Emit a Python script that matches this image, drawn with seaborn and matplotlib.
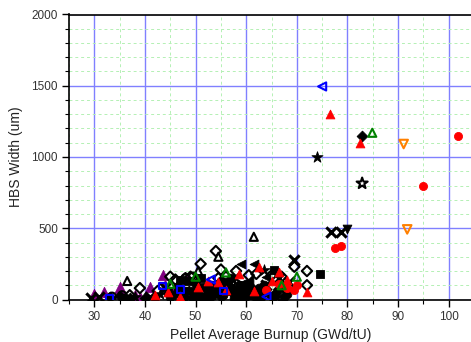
import matplotlib
matplotlib.use("Agg")
import matplotlib.pyplot as plt
import seaborn as sns
import pandas as pd
from matplotlib.ticker import MultipleLocator

# ---------------- data ----------------
purple_tri_x = [30, 32, 35, 35, 38, 41, 43.5, 44, 46, 48.5, 39]
purple_tri_y = [40, 50, 90, 70, 30, 90, 170, 100, 80, 150, 20]

red_tri_x = [42, 44.5, 50.5, 52.5, 54.5, 58.5, 61.5, 62.5, 66.5, 68, 72, 76.5, 82.5, 65, 56, 47]
red_tri_y = [30, 50, 90, 130, 120, 180, 60, 230, 190, 140, 50, 1300, 1100, 130, 70, 20]

red_circ_x = [77.5, 78.8, 95, 101.8, 69.5, 66.5, 68, 70, 64]
red_circ_y = [363, 375, 796, 1150, 70, 110, 80, 100, 70]

green_otri_x = [84.9, 70, 45, 50, 56, 67]
green_otri_y = [1170, 160, 110, 160, 190, 100]

blue_oleft_x = [75, 64, 53]
blue_oleft_y = [1495, 20, 140]

blue_osq_x = [33, 47, 43.5, 55.5]
blue_osq_y = [10, 70, 95, 60]

orange_odown_x = [91.1, 91.8]
orange_odown_y = [1091, 492]

black_x_x = [29.3, 31, 41, 44, 55, 58, 62, 64, 66.5, 68.5, 69.5, 76.8, 78.8, 52, 47]
black_x_y = [10, 20, 20, 80, 90, 40, 40, 100, 150, 120, 280, 474, 474, 50, 10]

black_dia_x = [82.9, 65, 33, 35, 48, 50, 53, 56, 58, 60, 63, 46, 40, 55, 61, 67, 37]
black_dia_y = [1145, 20, 15, 25, 20, 40, 20, 60, 30, 20, 60, 40, 10, 15, 90, 90, 10]

black_circ_x = [47.5, 49, 51, 52.5, 54, 55.5, 57, 58.5, 59.5, 61, 62.5, 64, 66, 68,
                50, 56, 46.5, 49.5, 57.5, 63, 60, 53, 55, 57,
                48, 51.5, 54.5, 56.5, 58, 59, 61.5, 63.5, 65.5, 67.5, 52, 60.5, 62, 45, 42, 36]
black_circ_y = [30, 60, 20, 70, 45, 30, 80, 100, 60, 30, 80, 50, 60, 40,
                110, 120, 90, 10, 10, 15, 110, 100, 130, 150,
                60, 90, 80, 100, 70, 20, 50, 100, 30, 20, 10, 80, 20, 20, 15, 10]

black_sq_x = [74.5, 65.5, 48.5, 51, 59.5, 44.5, 50.5, 47]
black_sq_y = [180, 210, 130, 150, 100, 50, 70, 140]

black_left_x = [59, 61.5, 53, 57, 60.5, 64, 48]
black_left_y = [250, 250, 30, 40, 130, 160, 70]

black_star_x = [73.9, 63.5, 52, 54, 60, 66, 38, 43]
black_star_y = [1000, 210, 40, 60, 50, 20, 20, 40]

black_odia_x = [39, 45, 51, 54, 55, 60.5, 67, 69.5, 72, 72, 65, 68, 54.5, 58, 62,
                37, 42.5, 46, 49, 56, 48]
black_odia_y = [80, 160, 250, 340, 210, 170, 160, 230, 200, 100, 170, 70, 150, 200, 180,
                30, 60, 140, 160, 160, 150]

black_ocirc_x = [33.5, 35.5, 48, 49.5, 57, 58]
black_ocirc_y = [20, 30, 150, 160, 120, 110]

black_ostar_x = [82.9, 60, 63]
black_ostar_y = [815, 40, 30]

black_otri_x = [36.5, 61.5, 54.5, 50.5]
black_otri_y = [130, 440, 300, 200]

black_down_x = [80.0]
black_down_y = [497]

x_ticks = [30, 40, 50, 60, 70, 80, 90, 100]
y_ticks = [0, 500, 1000, 1500, 2000]
x_label = "Pellet Average Burnup (GWd/tU)"
y_label = "HBS Width (um)"

# ---------------- styling ----------------
sns.set_theme(style="white")
plt.rcParams["font.family"] = ["Liberation Sans", "DejaVu Sans"]

fig = plt.figure(figsize=(4.71, 3.42), dpi=100)
ax = fig.add_axes([69 / 471, 1 - 299.5 / 342, (471.5 - 69) / 471, (299.5 - 14.5) / 342])

RED = "#ff0000"
PURPLE = "#800080"
GREEN = "#008000"
BLUE = "#0000ff"
ORANGE = "#ff8000"
BLACK = "#000000"

S = 40

def filled(xs, ys, marker, color, s=S):
    df = pd.DataFrame({"x": xs, "y": ys})
    sns.scatterplot(data=df, x="x", y="y", ax=ax, marker=marker, color=color,
                    edgecolor=color, linewidth=0.6, s=s, zorder=3, legend=False)

def opened(xs, ys, marker, color, s=S):
    df = pd.DataFrame({"x": xs, "y": ys})
    sns.scatterplot(data=df, x="x", y="y", ax=ax, marker=marker, facecolor="none",
                    edgecolor=color, linewidth=1.5, s=s, zorder=3, legend=False)

def line_marker(xs, ys, marker, color, s=S):
    df = pd.DataFrame({"x": xs, "y": ys})
    sns.scatterplot(data=df, x="x", y="y", ax=ax, marker=marker, color=color,
                    linewidth=2.2, s=s, zorder=3, legend=False)

filled(purple_tri_x, purple_tri_y, "^", PURPLE, 55)
opened(black_odia_x, black_odia_y, "D", BLACK, 28)
opened(black_ocirc_x, black_ocirc_y, "o", BLACK, 34)
filled(black_circ_x, black_circ_y, "o", BLACK)
filled(black_dia_x, black_dia_y, "D", BLACK, 30)
filled(black_sq_x, black_sq_y, "s", BLACK, 30)
filled(black_left_x, black_left_y, "<", BLACK)
filled(black_star_x, black_star_y, "*", BLACK, 70)
filled(black_down_x, black_down_y, "v", BLACK)
opened(black_ostar_x, black_ostar_y, "*", BLACK, 70)
opened(black_otri_x, black_otri_y, "^", BLACK, 34)
line_marker(black_x_x, black_x_y, "x", BLACK, 55)
filled(red_tri_x, red_tri_y, "^", RED)
filled(red_circ_x, red_circ_y, "o", RED, 34)
opened(green_otri_x, green_otri_y, "^", GREEN, 34)
opened(blue_oleft_x, blue_oleft_y, "<", BLUE, 34)
opened(blue_osq_x, blue_osq_y, "s", BLUE, 24)
opened(orange_odown_x, orange_odown_y, "v", ORANGE, 38)

ax.set_xlim(25, 104.5)
ax.set_ylim(0, 2000)
ax.set_xticks(x_ticks)
ax.set_yticks(y_ticks)
ax.xaxis.set_minor_locator(MultipleLocator(5))
ax.yaxis.set_minor_locator(MultipleLocator(100))

ax.grid(which="major", color="#8080ff", linewidth=1.0, linestyle="-", zorder=0)
ax.grid(which="minor", color="#b4f0b4", linewidth=0.7, linestyle=(0, (3, 3)), zorder=0)
ax.set_axisbelow(True)

for side in ["left", "bottom", "top"]:
    ax.spines[side].set_visible(True)
    ax.spines[side].set_color("#000000")
    ax.spines[side].set_linewidth(1.2)
ax.spines["right"].set_visible(False)

ax.tick_params(axis="both", which="major", direction="out", length=5, width=1,
               color="black", labelsize=8.5, labelcolor="#333333", pad=3,
               bottom=True, left=True)
ax.tick_params(axis="both", which="minor", direction="out", length=3, width=0.8,
               color="black", bottom=True, left=True)

ax.set_xlabel(x_label, fontsize=10, color="#222222", labelpad=4)
ax.set_ylabel(y_label, fontsize=10, color="#222222", labelpad=6)

fig.savefig("out.png", dpi=100)
